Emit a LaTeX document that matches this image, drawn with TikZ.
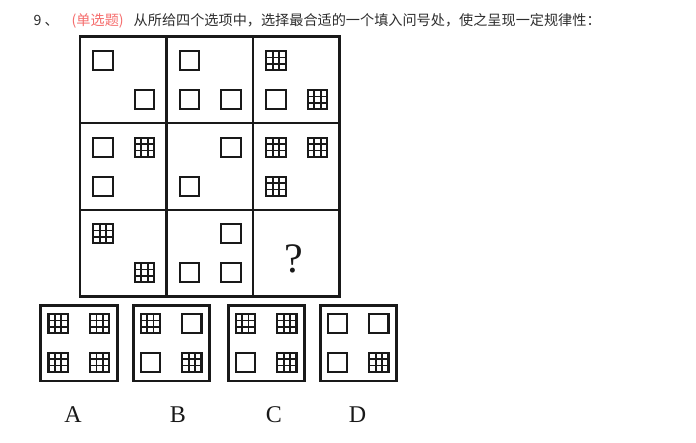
\documentclass[tikz,border=0pt]{standalone}
\usepackage{fontspec}
\setmainfont{Liberation Serif}
\newfontfamily\cjk{Noto Sans CJK SC}
\definecolor{txtgray}{RGB}{45,45,45}
\definecolor{tagred}{RGB}{245,108,108}
\definecolor{ink}{RGB}{25,25,25}
\tikzset{
  cellbox/.style={draw=ink, line width=2.3, minimum width=86.5, minimum height=86.5, inner sep=0, outer sep=0},
  optbox/.style={draw=ink, line width=2.9, minimum width=76.5, minimum height=75.5, inner sep=0, outer sep=0},
  gridsq/.pic={\draw[ink, line width=2.1] (-9.6,-9.6) rectangle (9.6,9.6);
    \foreach \t in {-3.2,3.2}{\draw[ink, line width=1.7] (\t,-9.6)--(\t,9.6); \draw[ink, line width=1.7] (-9.6,\t)--(9.6,\t);}},
  emptysq/.pic={\draw[ink, line width=2.1] (-9.6,-9.6) rectangle (9.6,9.6);},
  head/.style={anchor=base west, inner sep=0, font=\cjk\fontsize{14.15}{16}\selectfont},
  lab/.style={anchor=base, inner sep=0, text=ink, font=\fontsize{24}{26}\selectfont}
}
\begin{document}
\begin{tikzpicture}[x=1pt,y=-1pt]
\useasboundingbox (0,0) rectangle (696,443);
% header
\node[head, text=txtgray] (num) at (33.5,25.5) {9 、};
\node[head, text=tagred] (tag) at (71.5,25.5) {(单选题)};
\node[head, text=txtgray] (q) at (133.5,25.5) {从所给四个选项中，选择最合适的一个填入问号处，使之呈现一定规律性：};
% grid cells
\foreach \r/\y in {1/80,2/166.5,3/253}{
  \foreach \c/\x in {1/123.25,2/209.75,3/296.25}{
    \node[cellbox] (c\r\c) at (\x,\y) {};
  }
}
\draw[ink, line width=2.8] (c11.north west) rectangle (c33.south east);
% positions: TL (23,24) TR (64.5,24) BL (23,63) BR (64.5,63)
% row 1
\pic at ([shift={(23,24)}]c11.north west) {emptysq};
\pic at ([shift={(64.5,63)}]c11.north west) {emptysq};
\pic at ([shift={(23,24)}]c12.north west) {emptysq};
\pic at ([shift={(23,63)}]c12.north west) {emptysq};
\pic at ([shift={(64.5,63)}]c12.north west) {emptysq};
\pic at ([shift={(23,24)}]c13.north west) {gridsq};
\pic at ([shift={(23,63)}]c13.north west) {emptysq};
\pic at ([shift={(64.5,63)}]c13.north west) {gridsq};
% row 2
\pic at ([shift={(23,24)}]c21.north west) {emptysq};
\pic at ([shift={(64.5,24)}]c21.north west) {gridsq};
\pic at ([shift={(23,63)}]c21.north west) {emptysq};
\pic at ([shift={(64.5,24)}]c22.north west) {emptysq};
\pic at ([shift={(23,63)}]c22.north west) {emptysq};
\pic at ([shift={(23,24)}]c23.north west) {gridsq};
\pic at ([shift={(64.5,24)}]c23.north west) {gridsq};
\pic at ([shift={(23,63)}]c23.north west) {gridsq};
% row 3
\pic at ([shift={(23,24)}]c31.north west) {gridsq};
\pic at ([shift={(64.5,63)}]c31.north west) {gridsq};
\pic at ([shift={(64.5,24)}]c32.north west) {emptysq};
\pic at ([shift={(23,63)}]c32.north west) {emptysq};
\pic at ([shift={(64.5,63)}]c32.north west) {emptysq};
\node[anchor=base, inner sep=0, text=ink, font=\fontsize{42}{44}\selectfont] (qm) at (294,273) {?};
% options
\node[optbox] (oA) at (79,343.3) {};
\node[optbox] (oB) at (171.3,343.3) {};
\node[optbox] (oC) at (266.3,343.3) {};
\node[optbox] (oD) at (358.3,343.3) {};
% option squares: TL (17.3,18.3) TR (58.8,18.3) BL (17.3,56.8) BR (58.8,56.8)
\pic at ([shift={(17.3,18.3)}]oA.north west) {gridsq};
\pic at ([shift={(58.8,18.3)}]oA.north west) {gridsq};
\pic at ([shift={(17.3,56.8)}]oA.north west) {gridsq};
\pic at ([shift={(58.8,56.8)}]oA.north west) {gridsq};
\pic at ([shift={(17.3,18.3)}]oB.north west) {gridsq};
\pic at ([shift={(58.8,18.3)}]oB.north west) {emptysq};
\pic at ([shift={(17.3,56.8)}]oB.north west) {emptysq};
\pic at ([shift={(58.8,56.8)}]oB.north west) {gridsq};
\pic at ([shift={(17.3,18.3)}]oC.north west) {gridsq};
\pic at ([shift={(58.8,18.3)}]oC.north west) {gridsq};
\pic at ([shift={(17.3,56.8)}]oC.north west) {emptysq};
\pic at ([shift={(58.8,56.8)}]oC.north west) {gridsq};
\pic at ([shift={(17.3,18.3)}]oD.north west) {emptysq};
\pic at ([shift={(58.8,18.3)}]oD.north west) {emptysq};
\pic at ([shift={(17.3,56.8)}]oD.north west) {emptysq};
\pic at ([shift={(58.8,56.8)}]oD.north west) {gridsq};
% labels
\node[lab] (lA) at (73,422) {A};
\node[lab] (lB) at (178,422) {B};
\node[lab] (lC) at (274,422) {C};
\node[lab] (lD) at (357.5,422) {D};
\end{tikzpicture}
\end{document}
